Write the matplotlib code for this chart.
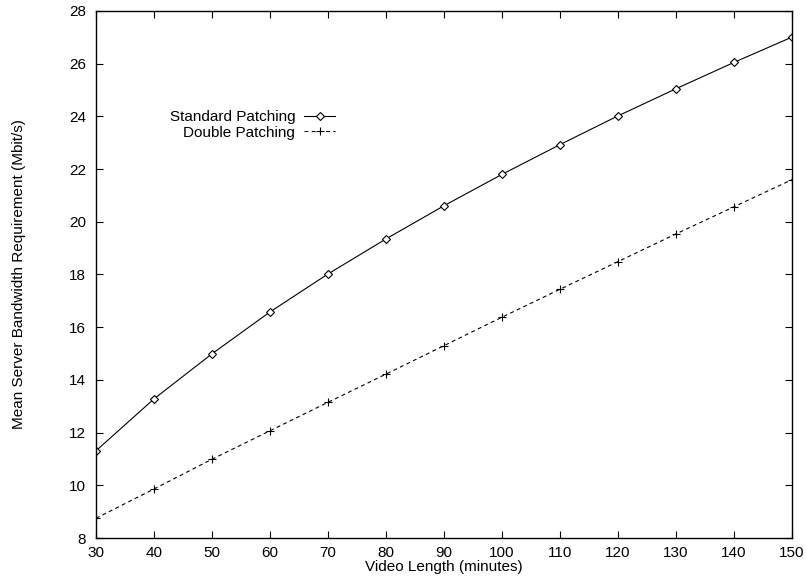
import matplotlib
matplotlib.use("Agg")
import matplotlib.pyplot as plt

plt.rcParams['font.family'] = ['Liberation Sans', 'DejaVu Sans']
plt.rcParams['font.size'] = 11

# video length in minutes
video_length = [30, 40, 50, 60, 70, 80, 90, 100, 110, 120, 130, 140, 150]
# mean server bandwidth (Mbit/s)
standard_patching = [11.31, 13.28, 14.99, 16.58, 18.02, 19.35, 20.61, 21.80, 22.93, 24.02, 25.05, 26.05, 27.01]
double_patching = [8.75, 9.86, 10.99, 12.07, 13.15, 14.22, 15.30, 16.38, 17.44, 18.49, 19.54, 20.57, 21.60]

x_ticks = list(range(30, 151, 10))
y_ticks = list(range(8, 29, 2))

fig = plt.figure(figsize=(8.06, 5.80), dpi=100)
ax = fig.add_axes([96 / 806, 42 / 580, 696 / 806, 527 / 580])

ax.plot(video_length, standard_patching, color='black', lw=0.8,
        marker='D', markersize=4.5, mfc='white', mec='black', mew=0.8,
        label='Standard Patching')
ax.plot(video_length, double_patching, color='black', lw=0.8, dashes=(3.5, 3),
        marker='+', markersize=6, mew=0.8, label='Double Patching')

ax.set_xlim(30, 150)
ax.set_ylim(8, 28)
ax.set_xticks(x_ticks)
ax.set_yticks(y_ticks)
ax.tick_params(direction='in', length=5, width=0.8, top=True, right=True)
ax.tick_params(axis='y', pad=7)
ax.tick_params(axis='x', pad=6)
for s in ax.spines.values():
    s.set_linewidth(1.0)

ax.set_xlabel('Video Length (minutes)', labelpad=0)
ax.set_ylabel('Mean Server Bandwidth Requirement (Mbit/s)', labelpad=31)

leg = ax.legend(loc='upper right', bbox_to_anchor=(335 / 806, 1 - 110 / 580),
                bbox_transform=fig.transFigure, frameon=False, markerfirst=False,
                numpoints=1, handlelength=2.0, handletextpad=0.6,
                labelspacing=0.12, borderpad=0, borderaxespad=0)
for h in leg.legend_handles:
    h.set_markersize(h.get_markersize() * 0.85)

fig.savefig('out.png', dpi=100)
